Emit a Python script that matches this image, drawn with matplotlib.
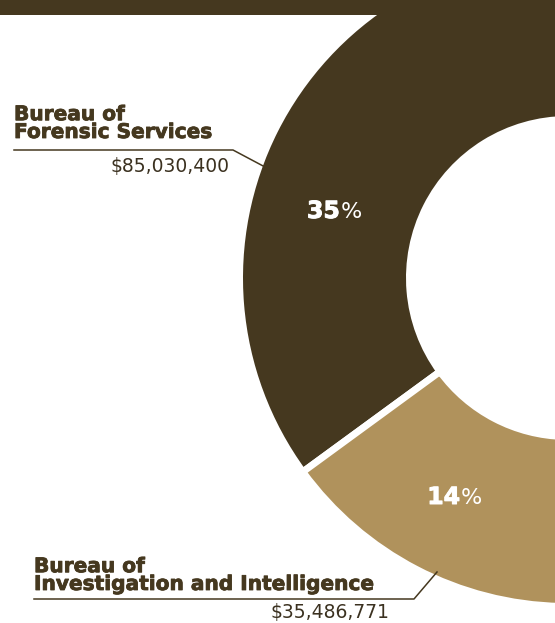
import matplotlib
matplotlib.use("Agg")
import matplotlib.pyplot as plt
from matplotlib.lines import Line2D
import matplotlib.patheffects as pe

# ---- data ----
categories = ["Bureau of\nForensic Services", "Bureau of\nInvestigation and Intelligence"]
amounts = [85030400, 35486771]
amount_labels = ["$85,030,400", "$35,486,771"]
pct_labels = ["35", "14"]
total_budget = 243000000  # estimated total (other bureaus are off-canvas)

BROWN = "#45381f"
TAN = "#b0925c"
colors = [BROWN, TAN, "white"]

W, H = 555, 623
fig = plt.figure(figsize=(W / 100, H / 100), dpi=100)
ax = fig.add_axes([0, 0, 1, 1])

def Y(yp):
    return H - yp

values = amounts + [total_budget - sum(amounts)]
cx, cy = 568, Y(278)
R_out, R_in = 325, 162
gap = 5.0  # pt
gap_px = gap * 100 / 72
ax.pie(values, colors=colors, startangle=90.2, counterclock=True,
       center=(cx, cy), radius=R_out + gap_px / 2,
       wedgeprops=dict(width=(R_out - R_in) + gap_px, edgecolor="white", linewidth=gap))

ax.set_xlim(0, W)
ax.set_ylim(0, H)
ax.set_aspect("equal")
ax.axis("off")

# top bar
ax.add_patch(plt.Rectangle((0, Y(15)), W, 15, color=BROWN, zorder=5, lw=0))

FONT = "DejaVu Sans"
# percent labels
for pct, (x, yp) in zip(pct_labels, [(340, 218), (460, 504)]):
    ax.text(x, Y(yp), pct, color="white", fontsize=17, fontweight="bold",
            family=FONT, ha="right", va="baseline",
            path_effects=[pe.withStroke(linewidth=0.7, foreground="white")])
    ax.text(x + 1, Y(yp), "%", color="white", fontsize=16, family=FONT,
            ha="left", va="baseline")

# category labels
lab_specs = [
    dict(x=14, b2=138, uy=150, ux_end=233, conn=(265, 167), ax_=229, ay=172),
    dict(x=34, b2=590, uy=599, ux_end=414, conn=(437, 572), ax_=390, ay=618),
]
for cat, amt, s in zip(categories, amount_labels, lab_specs):
    ax.text(s["x"], Y(s["b2"]), cat, color=BROWN, fontsize=14.5, fontweight="bold",
            family=FONT, ha="left", va="baseline", linespacing=0.92,
            path_effects=[pe.withStroke(linewidth=0.6, foreground=BROWN)])
    ax.add_line(Line2D([s["x"], s["ux_end"], s["conn"][0]],
                       [Y(s["uy"]), Y(s["uy"]), Y(s["conn"][1])],
                       color=BROWN, lw=1.1))
    ax.text(s["ax_"], Y(s["ay"]), amt, color="#3b3120", fontsize=13.5,
            family=FONT, ha="right", va="baseline")

fig.savefig("out.png", dpi=100)
